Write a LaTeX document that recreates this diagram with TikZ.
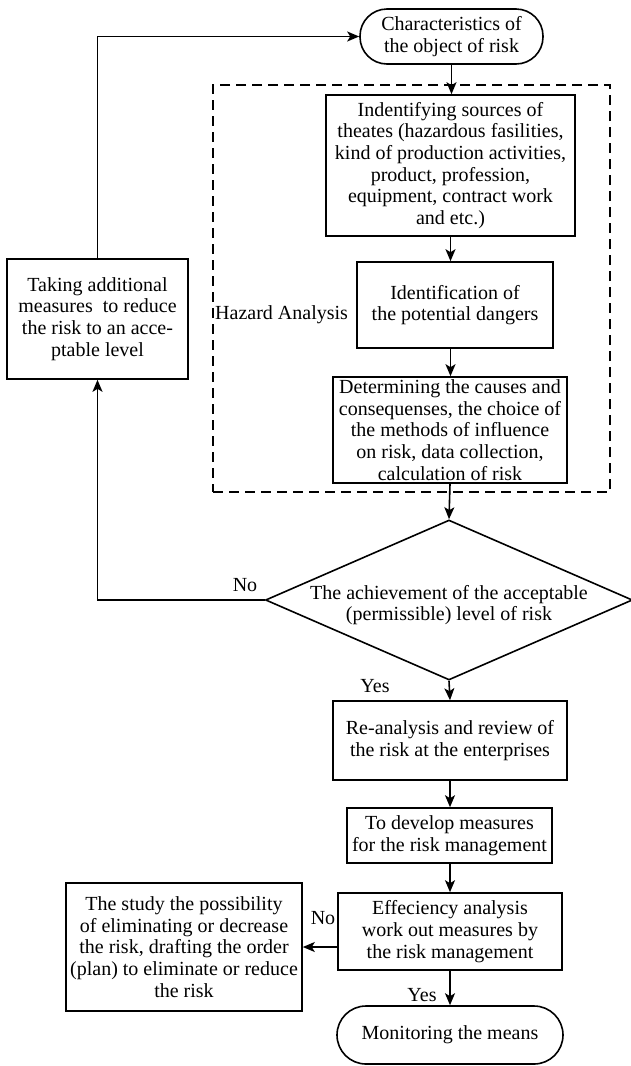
\documentclass[tikz,border=0pt]{standalone}
\usepackage{fontspec}
\setmainfont{Liberation Serif}
\usetikzlibrary{shapes.geometric,arrows.meta}
\newcommand{\mainsz}{\fontsize{20}{21.7}\selectfont}
\tikzset{
  box/.style={draw, line width=1.6pt, align=center, inner sep=0pt, font=\mainsz},
  term/.style={box, rounded corners=27pt},
  arr/.style={line width=1.6pt, -{Stealth[length=12pt,width=10pt,inset=3pt]}},
  lbl/.style={inner sep=0pt, font=\mainsz},
  hazbox/.style={draw, line width=1.6pt, dash pattern=on 10pt off 6pt, inner sep=0pt}
}
\begin{document}
\begin{tikzpicture}[x=1pt,y=-1pt]
\useasboundingbox (0,0) rectangle (630,1066);
\fill[white] (0,0) rectangle (630,1066);

\node[hazbox, minimum width=397pt, minimum height=407pt] (haz) at (411.5,288.5) {};

\node[term, minimum width=183pt, minimum height=55pt] (top) at (451.5,36.5) {Characteristics of\\the object of risk};
\node[box, minimum width=249pt, minimum height=141pt] (b1) at (450.5,165.5)
  {Indentifying sources of\\theates (hazardous fasilities,\\kind of production activities,\\product, profession,\\equipment, contract work\\and etc.)};
\node[box, minimum width=196pt, minimum height=86pt] (b2) at (455,305) {Identification of\\the potential dangers};
\node[box, minimum width=234pt, minimum height=106pt] (b3) at (450,430)
  {Determining the causes and\\consequenses, the choice of\\the methods of influence\\on risk, data collection,\\calculation of risk};
\node[lbl, anchor=west] (hl) at (215,315) {Hazard Analysis};

\node[box, minimum width=181pt, minimum height=120pt] (take) at (97.5,319)
  {Taking additional\\measures\ \ to reduce\\the risk to an acce-\\ptable level};

\node[draw, line width=1.6pt, diamond, minimum width=367pt, minimum height=160pt, inner sep=0pt, shape aspect=2.3] (dec) at (449,600) {};
\node[lbl, align=center] (dect) at (449,605) {The achievement of the acceptable\\(permissible) level of risk};

\node[box, minimum width=234pt, minimum height=79pt] (b4) at (450,740.5) {Re-analysis and review of\\the risk at the enterprises};
\node[box, minimum width=205pt, minimum height=55pt] (b5) at (449.5,835.5) {To develop measures\\for the risk management};
\node[box, minimum width=224pt, minimum height=77pt] (b6) at (450,931.5) {Effeciency analysis\\work out measures by\\the risk management};
\node[box, minimum width=236pt, minimum height=128pt] (study) at (184,947)
  {The study the possibility\\of eliminating or decrease\\the risk, drafting the order\\(plan) to eliminate or reduce\\the risk};
\node[term, rounded corners=29pt, minimum width=226pt, minimum height=58pt] (mon) at (450,1035) {Monitoring the means};

\node[lbl] (no1) at (245,585) {No};
\node[lbl] (yes1) at (375,686) {Yes};
\node[lbl] (no2) at (323,918) {No};
\node[lbl] (yes2) at (422,995) {Yes};

\draw[arr] (top.south) -- (top.south |- b1.north);
\draw[arr] (b1.south) -- (b1.south |- b2.north);
\draw[arr] (b1.south |- b2.south) -- (b1.south |- b3.north);
\draw[arr] (b3.south) -- (dec.north);
\draw[arr] (dec.west) -| (take.south);
\draw[arr] (take.north) |- (top.west);
\draw[arr] (dec.south) -- (b4.north);
\draw[arr] (b4.south) -- (b4.south |- b5.north);
\draw[arr] (b4.south |- b5.south) -- (b4.south |- b6.north);
\draw[arr] (b6.west |- study.east) -- (study.east);
\draw[arr] (b6.south) -- (b6.south |- mon.north);
\end{tikzpicture}
\end{document}
